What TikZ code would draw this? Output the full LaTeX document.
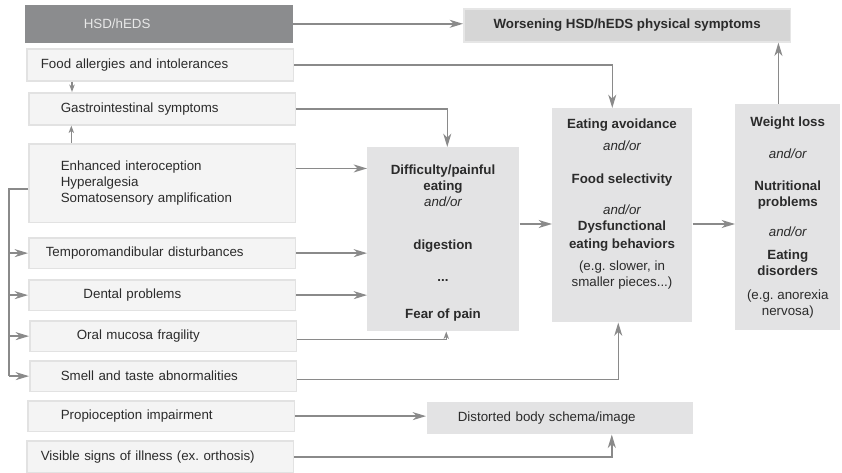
\documentclass[tikz,border=0pt]{standalone}
\usepackage{fontspec}
\setmainfont{Liberation Sans}
\usetikzlibrary{arrows.meta}
\definecolor{linegray}{HTML}{8A8A8A}
\definecolor{boxfill}{HTML}{F4F4F4}
\definecolor{boxline}{HTML}{E2E2E2}
\definecolor{hsdfill}{HTML}{8B8C8E}
\definecolor{hsdtext}{HTML}{E8E8E8}
\definecolor{midfill}{HTML}{E3E3E4}
\definecolor{topfill}{HTML}{D6D6D6}
\definecolor{topline}{HTML}{E6E6E6}
\definecolor{inktext}{HTML}{2B2B2B}
\newcommand{\andor}{{\mdseries\itshape and/or}}

\begin{document}
\begin{tikzpicture}[x=0.75pt,y=-0.75pt,
  lbox/.style={draw=boxline,fill=boxfill,line width=1.2pt,anchor=north west,align=left,inner xsep=0pt,text width=200pt,text=inktext},
  mtext/.style={align=center,text=inktext,font=\bfseries},
  mbox/.style={mtext,fill=midfill,anchor=north west},
  arr/.style={draw=linegray,line width=1.1pt,-{Stealth[length=10pt,width=6pt,inset=3pt]}},
  arrsmall/.style={arr,-{Stealth[length=5.5pt,width=4pt,inset=1.5pt]}},
  wire/.style={draw=linegray,line width=1.1pt}]
\useasboundingbox (0,0) rectangle (842,473);

% Left column
\node[lbox,fill=hsdfill,draw=hsdfill,text=hsdtext,minimum height=27pt] (hsd) at (25,5) {\hspace*{43.5pt}HSD/hEDS};
\node[lbox,minimum height=24pt] (food) at (26,48) {\hspace*{10.5pt}Food allergies and intolerances};
\node[lbox,minimum height=24pt] (gi) at (28,92) {\hspace*{24pt}Gastrointestinal symptoms};
\node[lbox,minimum height=59pt] (enh) at (28,143) {\hspace*{24pt}Enhanced interoception\\\hspace*{24pt}Hyperalgesia\\\hspace*{24pt}Somatosensory amplification};
\node[lbox,minimum height=23pt] (tmd) at (28,237) {\hspace*{12.75pt}Temporomandibular disturbances};
\node[lbox,minimum height=23pt] (dent) at (28,279) {\hspace*{41pt}Dental problems};
\node[lbox,minimum height=23pt] (oral) at (29,320) {\hspace*{35.25pt}Oral mucosa fragility};
\node[lbox,minimum height=23pt] (smell) at (29,360) {\hspace*{23.25pt}Smell and taste abnormalities};
\node[lbox,minimum height=23pt] (prop) at (27,400) {\hspace*{24.75pt}Propioception impairment};
\node[lbox,minimum height=24pt] (vis) at (26,440) {\hspace*{10.5pt}Visible signs of illness (ex.\ orthosis)};

% Consequences
\node[mbox,fill=topfill,draw=topline,line width=1.2pt,minimum width=245pt,minimum height=24.75pt] (worse) at (463,8) {Worsening HSD/hEDS physical symptoms};
\node[mbox,minimum width=114pt,minimum height=138pt] (diff) at (367,147) {};
\node[mtext] (difftext) at (443,243) {Difficulty/painful\\eating\\\andor\\[20pt]digestion\\[12pt]...\\[16pt]Fear of pain};
\node[mbox,minimum width=105pt,minimum height=160.5pt] (eat) at (552,108) {};
\node[mtext] (eattext) at (622,204) {Eating avoidance\\[4pt]\andor\\[13pt]Food selectivity\\[11pt]\andor\\Dysfunctional\\[1.5pt]eating behaviors\\[4.5pt]{\mdseries (e.g.\ slower, in}\\{\mdseries smaller pieces...)}};
\node[mbox,minimum width=78.75pt,minimum height=169.5pt] (wt) at (735,104) {Weight loss\\[12pt]\andor\\[12pt]Nutritional\\problems\\[11pt]\andor\\[5pt]Eating\\disorders\\[6pt]{\mdseries (e.g.\ anorexia}\\{\mdseries nervosa)}};
\node[lbox,draw=none,fill=midfill,text width=199.5pt,minimum height=24pt] (dist) at (426,401) {\hspace*{23.25pt}Distorted body schema/image};

% Arrows to the consequences
\draw[arr] (hsd.east) -- (hsd.east -| worse.west);
\draw[arr] (food.east) -| ([xshift=-7.5pt]eat.north);
\draw[arr] (gi.east) -| ([xshift=3pt]diff.north);
\coordinate (enhout) at ([yshift=11pt]enh.east);
\draw[arr] (enhout) -- (enhout -| diff.west);
\draw[arr] (tmd.east) -- (tmd.east -| diff.west);
\draw[arr] (dent.east) -- (dent.east -| diff.west);
\coordinate (oralout) at ([yshift=-2.5pt]oral.east);
\draw[arrsmall] (oralout) -| ([xshift=2.25pt]diff.south);
\coordinate (smellout) at ([yshift=-2.5pt]smell.east);
\draw[arr] (smellout) -| ([xshift=-3pt]eat.south);
\draw[arr] (prop.east) -- (prop.east -| dist.west);
\draw[arr] (vis.east) -| ([xshift=39pt]dist.south);
\coordinate (flow) at (0,224);
\draw[arr] (diff.east |- flow) -- (eat.west |- flow);
\draw[arr] (eat.east |- flow) -- (wt.west |- flow);
\coordinate (wtout) at ([xshift=-7pt]wt.north);
\draw[arr] (wtout) -- (wtout |- worse.south);

% Links inside the left column
\coordinate (fg) at ([xshift=34.5pt]food.south west);
\draw[arrsmall] (fg) -- (fg |- gi.north);
\coordinate (eg) at ([xshift=32.5pt]enh.north west);
\draw[arrsmall] (eg) -- (eg |- gi.south);
\coordinate (bus) at (9,189);
\draw[wire] (enh.west |- bus) -- (bus) -- (bus |- smell.west);
\foreach \n in {tmd,dent,oral,smell}
  \draw[arr] (bus |- \n.west) -- (\n.west);
\end{tikzpicture}
\end{document}
